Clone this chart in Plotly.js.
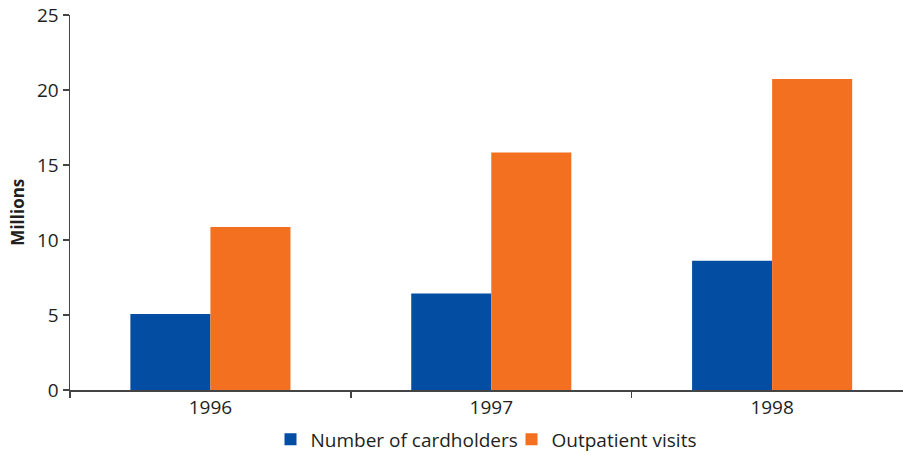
<!DOCTYPE html>
<html>
<head>
<meta charset="utf-8">
<script src="https://cdn.plot.ly/plotly-3.0.1.min.js"></script>
<style>html,body{margin:0;padding:0;background:#fff;}#chart{width:903px;height:455px;}</style>
</head>
<body>
<div id="chart"></div>
<script>
var years = ['1996', '1997', '1998'];
var cardholders = [5.07, 6.43, 8.62];
var outpatientVisits = [10.87, 15.84, 20.74];
var seriesNames = ['Number of cardholders', 'Outpatient visits'];
var yTicks = [0, 5, 10, 15, 20, 25];

var fontFam = '"Open Sans", "DejaVu Sans", sans-serif';
var textColor = '#231f20';

var traces = [
  {type: 'bar', x: years, y: cardholders, name: seriesNames[0],
   marker: {color: '#034ea2', line: {width: 0}}, hoverinfo: 'x+y'},
  {type: 'bar', x: years, y: outpatientVisits, name: seriesNames[1],
   marker: {color: '#f37021', line: {width: 0}}, hoverinfo: 'x+y'}
];

var layout = {
  width: 903, height: 455,
  margin: {l: 70, r: 0, t: 15, b: 64.5, pad: 0, autoexpand: false},
  paper_bgcolor: '#fff', plot_bgcolor: '#fff',
  barmode: 'group', bargap: 0.43, bargroupgap: 0,
  font: {family: fontFam, color: textColor, size: 18},
  showlegend: true,
  legend: {orientation: 'h', x: 0.2407, xanchor: 'left', xref: 'paper',
           y: -0.132, yanchor: 'middle', font: {size: 19, color: textColor},
           itemwidth: 30, tracegroupgap: 0, traceorder: 'normal', entrywidth: 196},
  xaxis: {type: 'category', range: [-0.5, 2.466], showline: true, linecolor: '#444', linewidth: 1.5,
          ticks: 'outside', tickson: 'boundaries', ticklen: 6, tickcolor: '#444', tickwidth: 1.5,
          showgrid: false, zeroline: false, tickfont: {size: 19, color: textColor}, fixedrange: true,
          automargin: false},
  yaxis: {range: [0, 25], tickvals: yTicks, ticktext: yTicks.map(String),
          showline: true, linecolor: '#444', linewidth: 1.5,
          ticks: 'outside', ticklen: 6, tickcolor: '#444', tickwidth: 1.5,
          showgrid: false, zeroline: false, tickfont: {size: 19, color: textColor},
          fixedrange: true, automargin: false},
  annotations: [{text: '<b>Millions</b>', xref: 'paper', x: -0.0624, yref: 'paper', y: 0.473,
                 textangle: -90, showarrow: false, xanchor: 'center', yanchor: 'middle',
                 font: {size: 17, color: textColor, family: fontFam}}]
};

Plotly.newPlot('chart', traces, layout, {displayModeBar: false, staticPlot: true});
</script>
</body>
</html>
